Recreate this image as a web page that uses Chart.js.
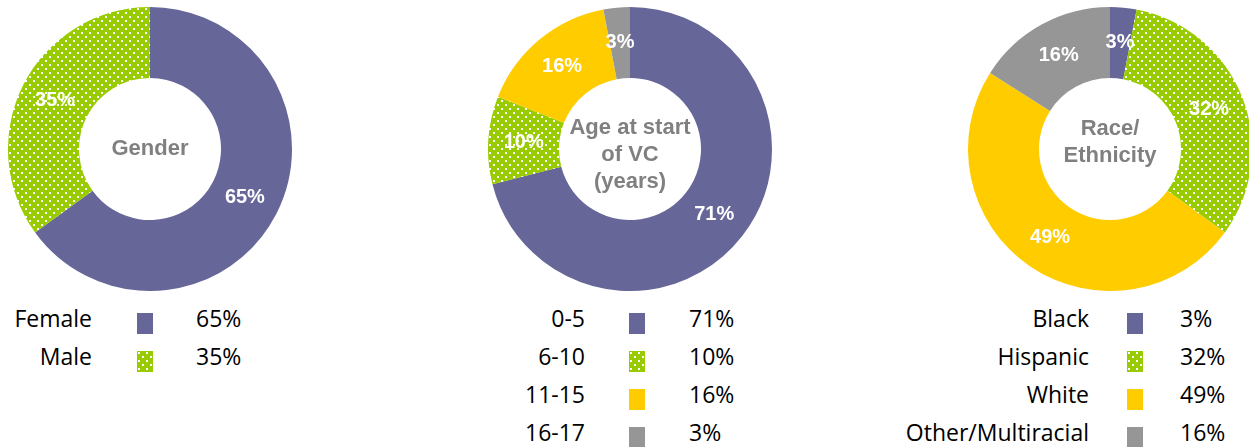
<!DOCTYPE html>
<html>
<head>
<meta charset="utf-8">
<script src="https://cdn.jsdelivr.net/npm/chart.js@4.4.0/dist/chart.umd.min.js"></script>
<style>
  body { margin: 0; background: #fff; }
  #page { position: relative; width: 1249px; height: 447px; overflow: hidden; background: #fff; }
  .pie { position: absolute; top: 7px; width: 284px; height: 284px; }
  .row { position: absolute; height: 22px; line-height: 22px; font-family: "Open Sans", sans-serif; font-size: 23px; color: #000; white-space: nowrap; }
  .sw { position: absolute; width: 16px; height: 21px; }
</style>
</head>
<body>
<div id="page">
  <canvas id="genderChart" class="pie" width="284" height="284" style="left:8px"></canvas>
  <canvas id="ageChart" class="pie" width="284" height="284" style="left:488px"></canvas>
  <canvas id="raceChart" class="pie" width="284" height="284" style="left:968px"></canvas>
</div>
<script>
// data
const genderLabels = ['Female', 'Male'];
const genderValues = [65, 35];
const ageLabels = ['0-5', '6-10', '11-15', '16-17'];
const ageValues = [71, 10, 16, 3];
const raceLabels = ['Black', 'Hispanic', 'White', 'Other/Multiracial'];
const raceValues = [3, 32, 49, 16];

const purple = '#666699';
const green = '#99cc00';
const yellow = '#ffcc00';
const grey = '#969696';

// dotted green fill
const tile = document.createElement('canvas');
tile.width = 8;
tile.height = 8;
const tctx = tile.getContext('2d');
tctx.fillStyle = green;
tctx.fillRect(0, 0, 8, 8);
tctx.fillStyle = '#ffffff';
tctx.fillRect(1, 1, 2, 2);
tctx.fillRect(5, 5, 2, 2);
const dots = tctx.createPattern(tile, 'repeat');

const pieColors = [purple, dots, yellow, grey];

const sliceLabels = {
    id: 'sliceLabels',
    afterDatasetsDraw(chart) {
        const ctx = chart.ctx;
        const meta = chart.getDatasetMeta(0);
        ctx.save();
        ctx.font = 'bold 20px "Liberation Sans", Arial, sans-serif';
        ctx.fillStyle = '#ffffff';
        ctx.textAlign = 'center';
        ctx.textBaseline = 'middle';
        meta.data.forEach((arc, i) => {
            const p = arc.tooltipPosition();
            ctx.fillText(chart.data.datasets[0].data[i] + '%', p.x, p.y);
        });
        ctx.restore();
    }
};

const centerText = {
    id: 'centerText',
    afterDraw(chart, args, opts) {
        const ctx = chart.ctx;
        const arc = chart.getDatasetMeta(0).data[0];
        const lh = 27;
        const y0 = arc.y + opts.shift - (opts.lines.length - 1) * lh / 2;
        ctx.save();
        ctx.font = 'bold 22px "Liberation Sans", Arial, sans-serif';
        ctx.fillStyle = '#808080';
        ctx.textAlign = 'center';
        ctx.textBaseline = 'middle';
        opts.lines.forEach((t, i) => ctx.fillText(t, arc.x, y0 + i * lh));
        ctx.restore();
    }
};

function makePie(id, labels, values, lines, shift) {
    return new Chart(document.getElementById(id), {
        type: 'doughnut',
        data: {
            labels: labels,
            datasets: [{
                data: values,
                backgroundColor: pieColors.slice(0, values.length),
                borderWidth: 0
            }]
        },
        options: {
            responsive: false,
            animation: false,
            cutout: '50%',
            layout: { padding: 0 },
            plugins: {
                legend: { display: false },
                tooltip: { enabled: false },
                centerText: { lines: lines, shift: shift }
            }
        },
        plugins: [sliceLabels, centerText]
    });
}

makePie('genderChart', genderLabels, genderValues, ['Gender'], 0);
makePie('ageChart', ageLabels, ageValues, ['Age at start', 'of VC', '(years)'], 6);
makePie('raceChart', raceLabels, raceValues, ['Race/', 'Ethnicity'], -7);

// legend tables under each pie
const swatchFills = [purple, 'url(' + tile.toDataURL() + ')', yellow, grey];

function makeLegend(labels, values, labelRight, swatchX, valueX) {
    const page = document.getElementById('page');
    labels.forEach((name, i) => {
        const top = 307 + i * 38;
        const lab = document.createElement('div');
        lab.className = 'row';
        lab.style.top = top + 'px';
        lab.style.right = (1249 - labelRight) + 'px';
        lab.textContent = name;
        page.appendChild(lab);

        const sw = document.createElement('div');
        sw.className = 'sw';
        sw.style.top = (top + 6) + 'px';
        sw.style.left = swatchX + 'px';
        sw.style.background = swatchFills[i];
        page.appendChild(sw);

        const val = document.createElement('div');
        val.className = 'row';
        val.style.top = top + 'px';
        val.style.left = valueX + 'px';
        val.textContent = values[i] + '%';
        page.appendChild(val);
    });
}

makeLegend(genderLabels, genderValues, 92, 137, 196);
makeLegend(ageLabels, ageValues, 585, 629, 689);
makeLegend(raceLabels, raceValues, 1089, 1127, 1180);
</script>
</body>
</html>
